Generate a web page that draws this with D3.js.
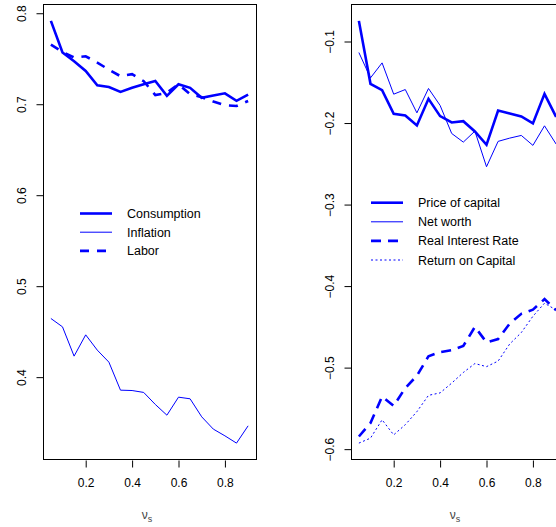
<!DOCTYPE html>
<html>
<head>
<meta charset="utf-8">
<script src="https://cdn.jsdelivr.net/npm/d3@7"></script>
<style>
  body { margin: 0; background: #fff; }
  svg { display: block; font-family: "Liberation Sans", Arial, Helvetica, sans-serif; }
</style>
</head>
<body>
<svg id="chart" width="556" height="527"></svg>
<script>
// x values (nu_s) shared by both panels
const vs = [0.05, 0.1, 0.15, 0.2, 0.25, 0.3, 0.35, 0.4, 0.45, 0.5, 0.55, 0.6, 0.65, 0.7, 0.75, 0.8, 0.85, 0.9];

// left panel series
const consumption = [0.7916, 0.7568, 0.7473, 0.7366, 0.7209, 0.719, 0.7135, 0.718, 0.722, 0.7256, 0.7092, 0.722, 0.718, 0.707, 0.7095, 0.712, 0.7037, 0.7106];
const inflation = [0.4645, 0.4553, 0.4231, 0.4465, 0.4297, 0.4165, 0.3857, 0.3853, 0.3832, 0.37, 0.3582, 0.378, 0.3762, 0.3564, 0.3429, 0.3355, 0.3275, 0.3465];
const labor = [0.7656, 0.7575, 0.7513, 0.7527, 0.7458, 0.738, 0.7308, 0.733, 0.7253, 0.710, 0.7126, 0.722, 0.711, 0.7077, 0.703, 0.699, 0.698, 0.7035];

// right panel series
const priceOfCapital = [-0.0747, -0.1519, -0.1597, -0.1887, -0.1907, -0.2029, -0.1703, -0.1915, -0.1993, -0.1977, -0.2103, -0.2267, -0.1846, -0.1882, -0.1919, -0.2005, -0.1642, -0.1924];
const netWorth = [-0.1135, -0.1446, -0.1262, -0.1646, -0.1589, -0.1875, -0.1576, -0.1784, -0.2128, -0.2234, -0.2099, -0.2536, -0.2225, -0.2185, -0.2152, -0.2274, -0.2034, -0.2258];
const realInterest = [-0.5845, -0.568, -0.5355, -0.547, -0.525, -0.51, -0.486, -0.481, -0.4785, -0.4735, -0.45, -0.469, -0.465, -0.446, -0.434, -0.429, -0.416, -0.4296];
const returnOnCapital = [-0.5926, -0.5865, -0.564, -0.5825, -0.570, -0.554, -0.534, -0.531, -0.519, -0.506, -0.495, -0.4988, -0.492, -0.471, -0.457, -0.437, -0.421, -0.4293];

// tick labels
const xTicks = [0.2, 0.4, 0.6, 0.8];
const yTicksLeft = [0.4, 0.5, 0.6, 0.7, 0.8];
const yTicksRight = [-0.6, -0.5, -0.4, -0.3, -0.2, -0.1];

const blue = "#0000ff";
const svg = d3.select("#chart");

// R style padding: 4% each side of the data range
function padded(values) {
  const [lo, hi] = d3.extent(values);
  const r = hi - lo;
  return [lo - 0.04 * r, hi + 0.04 * r];
}

function drawPanel(opts) {
  const x = d3.scaleLinear().domain(padded(vs)).range([opts.left, opts.right]);
  const y = d3.scaleLinear().domain(padded(opts.series.flatMap(s => s.values))).range([460, 4]);

  const g = svg.append("g");
  const clipId = "clip" + opts.left;
  g.append("clipPath").attr("id", clipId)
    .append("rect")
    .attr("x", opts.left).attr("y", 4)
    .attr("width", opts.right - opts.left).attr("height", 456);

  // series lines
  const line = d3.line().x((d, i) => x(vs[i])).y(d => y(d));
  opts.series.forEach(s => {
    g.append("path")
      .datum(s.values)
      .attr("clip-path", `url(#${clipId})`)
      .attr("fill", "none")
      .attr("stroke", blue)
      .attr("stroke-width", s.width)
      .attr("stroke-dasharray", s.dash || null)
      .attr("d", line);
  });

  // box
  g.append("rect")
    .attr("x", opts.left + 0.5).attr("y", 4.5)
    .attr("width", opts.right - opts.left).attr("height", 455)
    .attr("fill", "none").attr("stroke", "#000").attr("stroke-width", 1);

  // x axis
  const xAxis = g.append("g")
    .attr("transform", "translate(0,460.5)")
    .call(d3.axisBottom(x).tickValues(xTicks).tickSize(7).tickPadding(11)
      .tickFormat(d3.format(".1f")));
  xAxis.select(".domain").remove();
  xAxis.selectAll("text").attr("font-size", 12).attr("fill", "#000")
    .attr("font-family", "Liberation Sans, Arial, sans-serif");

  // y axis
  const yAxis = g.append("g")
    .attr("transform", `translate(${opts.left + 0.5},0)`)
    .call(d3.axisLeft(y).tickValues(opts.yTicks).tickSize(7).tickPadding(0)
      .tickFormat(d => d3.format(".1f")(d).replace("-", "\u2212")));
  yAxis.select(".domain")
    .attr("d", `M0,${y(d3.min(opts.yTicks))}V${y(d3.max(opts.yTicks))}`);
  yAxis.selectAll("text")
    .attr("font-size", 12).attr("fill", "#000")
    .attr("font-family", "Liberation Sans, Arial, sans-serif")
    .attr("text-anchor", "middle")
    .attr("x", 0).attr("dy", 0)
    .attr("transform", "translate(-18,0) rotate(-90)");

  // axis title nu_s
  const title = g.append("text")
    .attr("x", opts.left + 104)
    .attr("y", 519)
    .attr("text-anchor", "middle")
    .attr("fill", "#444")
    .attr("font-size", 12)
    .attr("font-family", "Liberation Sans, Arial, sans-serif");
  title.append("tspan").text("\u03bd");
  title.append("tspan").attr("font-size", 9).attr("dy", 3).text("s");

  // legend
  const leg = g.append("g");
  opts.series.forEach((s, i) => {
    const ly = opts.legendY + i * opts.legendStep;
    leg.append("line")
      .attr("x1", opts.legendX).attr("x2", opts.legendX + 32)
      .attr("y1", ly).attr("y2", ly)
      .attr("stroke", blue)
      .attr("stroke-width", s.width)
      .attr("stroke-dasharray", s.dash || null);
    leg.append("text")
      .attr("x", opts.legendX + 47).attr("y", ly + 4.5)
      .attr("font-size", 12.5).attr("fill", "#000")
      .text(s.name);
  });
}

drawPanel({
  left: 43, right: 256,
  yTicks: yTicksLeft,
  legendX: 80, legendY: 213.5, legendStep: 18.7,
  series: [
    { name: "Consumption", values: consumption, width: 2.6 },
    { name: "Inflation", values: inflation, width: 1 },
    { name: "Labor", values: labor, width: 2.6, dash: "9,8" }
  ]
});

drawPanel({
  left: 351, right: 564,
  yTicks: yTicksRight,
  legendX: 371, legendY: 202.7, legendStep: 19.1,
  series: [
    { name: "Price of capital", values: priceOfCapital, width: 2.6 },
    { name: "Net worth", values: netWorth, width: 1 },
    { name: "Real Interest Rate", values: realInterest, width: 2.6, dash: "10,7" },
    { name: "Return on Capital", values: returnOnCapital, width: 1, dash: "2,2.5" }
  ]
});
</script>
</body>
</html>
